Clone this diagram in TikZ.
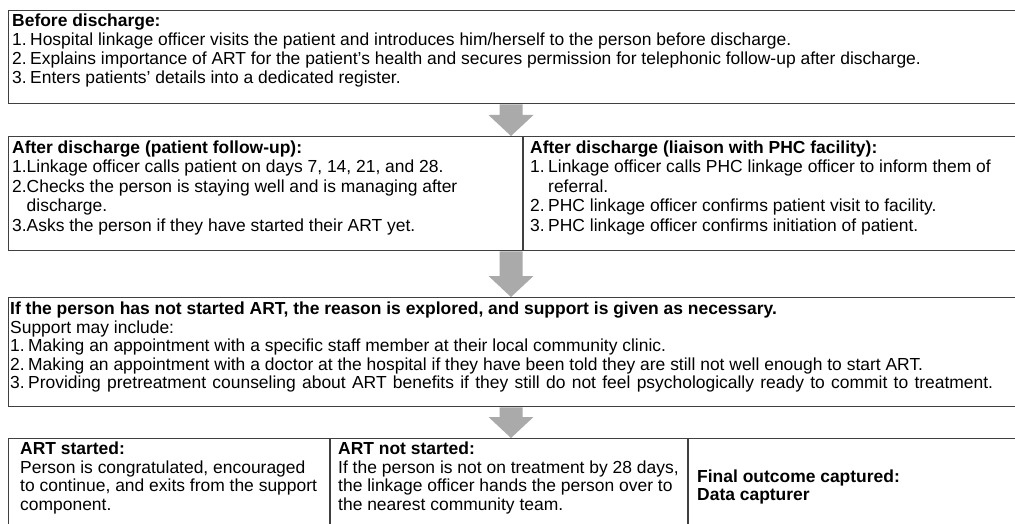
\documentclass[tikz,border=0pt]{standalone}
\usepackage{fontspec}
\setmainfont{Liberation Sans}
\usetikzlibrary{calc}
\definecolor{linegray}{HTML}{404040}
\definecolor{arrowgray}{HTML}{AAAAAA}
\newcommand{\blk}[2][19pt]{\vtop{\hsize=1100pt\parindent=0pt\parskip=0pt\leftskip=0pt\rightskip=0pt plus 1fil\parfillskip=0pt plus 1fil\lineskiplimit=-100pt\baselineskip=#1\relax #2\par}}
\newcommand{\itm}[3]{\par\hangindent=#1\hangafter=1\noindent\makebox[#1][l]{#2}#3\par}
\tikzset{
  boxst/.style={draw=linegray, line width=1.3pt, rectangle, inner sep=0pt, anchor=north west, minimum width=1022pt},
  txt/.style={anchor=base west, inner sep=0pt, font=\fontsize{17.45}{19}\selectfont},
  divst/.style={draw=linegray, line width=1.3pt},
  blockarrow/.style={fill=arrowgray}
}
\newcommand{\barrow}[2]{%
  \fill[blockarrow] ([xshift=-11.5pt]#1) -- ([xshift=11.5pt]#1) -- ([xshift=11.5pt,yshift=21pt]#2) -- ([xshift=22.5pt,yshift=21pt]#2) -- (#2) -- ([xshift=-22.5pt,yshift=21pt]#2) -- ([xshift=-11.5pt,yshift=21pt]#2) -- cycle;}
\begin{document}
\begin{tikzpicture}[x=1pt,y=-1pt]
\useasboundingbox (0,0) rectangle (1015,524);
\fill[white] (0,0) rectangle (1015,524);
% boxes
\node[boxst, minimum height=93pt] (b1) at (8,10) {};
\node[boxst, minimum height=114pt] (b2) at (8,136) {};
\node[boxst, minimum height=109pt] (b3) at (8,297) {};
\node[boxst, minimum height=110pt] (b4) at (8,438) {};
% dividers
\coordinate (d2) at (523,0);
\coordinate (d4a) at (330,0);
\coordinate (d4b) at (688,0);
\draw[divst] (b2.north -| d2) -- (b2.south -| d2);
\draw[divst] (b4.north -| d4a) -- (b4.south -| d4a);
\draw[divst] (b4.north -| d4b) -- (b4.south -| d4b);
% arrows
\coordinate (ax) at (511,0);
\coordinate (a1s) at (b1.south -| ax);
\coordinate (a1e) at (b2.north -| ax);
\coordinate (a2s) at (b2.south -| ax);
\coordinate (a2e) at (b3.north -| ax);
\coordinate (a3s) at (b3.south -| ax);
\coordinate (a3e) at (b4.north -| ax);
\barrow{a1s}{a1e}
\barrow{a2s}{a2e}
\barrow{a3s}{a3e}
% texts
\node[txt] (t1) at (12,27) {\blk{\textbf{Before discharge:}\par
\itm{18pt}{1.}{Hospital linkage officer visits the patient and introduces him/herself to the person before discharge.}
\itm{18pt}{2.}{Explains importance of ART for the patient’s health and secures permission for telephonic follow-up after discharge.}
\itm{18pt}{3.}{Enters patients’ details into a dedicated register.}}};
\node[txt] (t2a) at (12,153.5) {\blk[19.5pt]{\textbf{After discharge (patient follow-up):}\par
\itm{14.5pt}{1.}{Linkage officer calls patient on days 7, 14, 21, and 28.}
\itm{14.5pt}{2.}{Checks the person is staying well and is managing after\break discharge.}
\itm{14.5pt}{3.}{Asks the person if they have started their ART yet.}}};
\node[txt] (t2b) at (530,153.5) {\blk[19.5pt]{\textbf{After discharge (liaison with PHC facility):}\par
\itm{18pt}{1.}{Linkage officer calls PHC linkage officer to inform them of\break referral.}
\itm{18pt}{2.}{PHC linkage officer confirms patient visit to facility.}
\itm{18pt}{3.}{PHC linkage officer confirms initiation of patient.}}};
\node[txt] (t3) at (10,314.5) {\blk[18.6pt]{\textbf{If the person has not started ART, the reason is explored, and support is given as necessary.}\par
Support may include:\par
\itm{18pt}{1.}{Making an appointment with a specific staff member at their local community clinic.}
\itm{18pt}{2.}{Making an appointment with a doctor at the hospital if they have been told they are still not well enough to start ART.}
\itm{18pt}{3.}{\makebox[965pt][s]{Providing pretreatment counseling about ART benefits if they still do not feel psychologically ready to commit to treatment.}}}};
\node[txt] (t4a) at (20,454.5) {\blk[18.5pt]{\textbf{ART started:}\par
Person is congratulated, encouraged\break to continue, and exits from the support\break component.}};
\node[txt] (t4b) at (338,454.5) {\blk[18.5pt]{\textbf{ART not started:}\par
If the person is not on treatment by 28 days,\break the linkage officer hands the person over to\break the nearest community team.}};
\node[txt] (t4c) at (697,482) {\blk[18.5pt]{\textbf{Final outcome captured:}\par
\textbf{Data capturer}}};
\end{tikzpicture}
\end{document}
